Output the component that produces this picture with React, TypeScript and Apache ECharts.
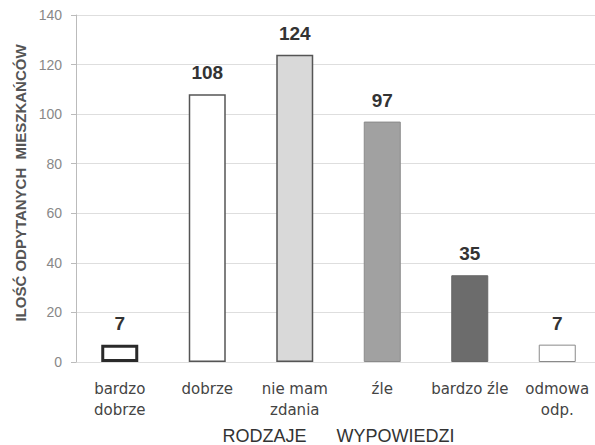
import React, { useEffect, useRef } from "react";
import * as echarts from "echarts";

const categories = ["bardzo\ndobrze", "dobrze", "nie mam\nzdania", "źle", "bardzo źle", "odmowa\nodp."];
const values = [7, 108, 124, 97, 35, 7];
const fills = ["#ffffff", "#ffffff", "#d9d9d9", "#a1a1a1", "#6c6c6c", "#ffffff"];
const borders = ["#2a2a2a", "#555555", "#555555", "#8a8a8a", "#666666", "#8a8a8a"];
const borderWidths = [3, 1.5, 1.5, 1, 1, 1];
const yAxisTitle = "ILOŚĆ ODPYTANYCH  MIESZKAŃCÓW";
const xAxisTitle = "RODZAJE      WYPOWIEDZI";

export default function App() {
  const ref = useRef<HTMLDivElement>(null);
  useEffect(() => {
    const chart = echarts.init(ref.current!, null, { renderer: "svg" });
    chart.setOption({
      animation: false,
      backgroundColor: "#ffffff",
      grid: { left: 76, top: 15, width: 525, height: 347, containLabel: false, outerBoundsMode: "none" },
      graphic: [
        {
          type: "text",
          x: 20,
          y: 183,
          rotation: Math.PI / 2,
          style: {
            text: yAxisTitle,
            fill: "#555",
            font: "bold 15px 'Liberation Sans'",
            align: "center",
            verticalAlign: "middle",
          },
        },
      ],
      xAxis: {
        type: "category",
        data: categories,
        axisLine: { show: false },
        axisTick: { show: false },
        axisLabel: { interval: 0, color: "#444", fontSize: 15, fontFamily: "DejaVu Sans", lineHeight: 21, margin: 16 },
        name: xAxisTitle,
        nameLocation: "middle",
        nameGap: 65,
        nameMoveOverlap: false,
        nameTextStyle: { color: "#333", fontSize: 18, fontFamily: "Liberation Sans" },
      },
      yAxis: {
        type: "value",
        min: 0,
        max: 140,
        interval: 20,
        axisLine: { show: true, lineStyle: { color: "#bbb" } },
        axisTick: { show: true, length: 5, lineStyle: { color: "#bbb" } },
        axisLabel: { color: "#888", fontSize: 14, fontFamily: "Liberation Sans", margin: 14 },
        splitLine: { show: true, lineStyle: { color: "#dedede", width: 1 } },
      },
      series: [
        {
          type: "bar",
          barWidth: 37,
          data: values.map((v, i) => ({
            value: v,
            itemStyle: { color: fills[i], borderColor: borders[i], borderWidth: borderWidths[i] },
          })),
          label: {
            show: true,
            position: "top",
            distance: 12,
            color: "#333",
            fontSize: 19,
            fontWeight: "bold",
            fontFamily: "Liberation Sans",
          },
        },
      ],
    });
    return () => chart.dispose();
  }, []);
  return <div ref={ref} style={{ width: 595, height: 445, position: "absolute", left: 0, top: 0 }} />;
}
